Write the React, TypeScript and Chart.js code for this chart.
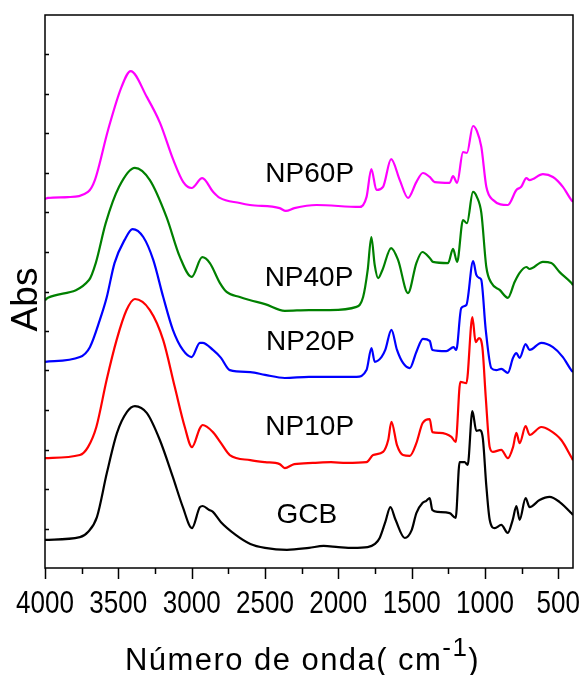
import React, { useEffect, useRef } from "react";
import { Chart, registerables } from "chart.js";

Chart.register(...registerables);

// ---- Data (wavenumber in cm-1, absorbance in stacked arbitrary units) ----
const gcbWn = [4000, 3762, 3707, 3646, 3578, 3509, 3441, 3387, 3305, 3217, 3128, 3060, 2998, 2944, 2925, 2880, 2855, 2800, 2700, 2600, 2500, 2350, 2200, 2100, 2000, 1900, 1800, 1750, 1718, 1680, 1645, 1610, 1547, 1500, 1468, 1425, 1400, 1377, 1359, 1322, 1241, 1200, 1173, 1139, 1118, 1086, 1059, 1036, 1015, 991, 968, 934, 889, 845, 811, 786, 764, 723, 696, 628, 560, 491, 412, 400];
const gcbAbs = [0.071, 0.078, 0.091, 0.129, 0.241, 0.342, 0.395, 0.410, 0.392, 0.324, 0.230, 0.154, 0.101, 0.154, 0.157, 0.147, 0.142, 0.116, 0.084, 0.061, 0.051, 0.046, 0.051, 0.056, 0.053, 0.051, 0.053, 0.061, 0.076, 0.116, 0.154, 0.122, 0.076, 0.096, 0.139, 0.165, 0.170, 0.177, 0.147, 0.142, 0.139, 0.127, 0.268, 0.268, 0.261, 0.397, 0.347, 0.349, 0.329, 0.208, 0.122, 0.101, 0.109, 0.089, 0.122, 0.157, 0.122, 0.177, 0.154, 0.172, 0.180, 0.167, 0.139, 0.134];

const np10Wn = [4000, 3762, 3707, 3650, 3580, 3512, 3444, 3387, 3285, 3194, 3115, 3047, 2998, 2944, 2925, 2855, 2800, 2740, 2600, 2500, 2400, 2365, 2300, 2174, 2050, 1945, 1808, 1763, 1695, 1660, 1638, 1600, 1559, 1513, 1468, 1425, 1377, 1359, 1309, 1229, 1200, 1168, 1127, 1086, 1064, 1041, 1018, 995, 968, 946, 889, 844, 809, 786, 764, 723, 696, 616, 560, 480, 412, 400];
const np10Abs = [0.278, 0.286, 0.306, 0.357, 0.476, 0.577, 0.653, 0.681, 0.653, 0.577, 0.458, 0.357, 0.306, 0.354, 0.362, 0.344, 0.316, 0.286, 0.273, 0.268, 0.263, 0.253, 0.263, 0.266, 0.268, 0.266, 0.268, 0.286, 0.294, 0.324, 0.370, 0.311, 0.286, 0.284, 0.316, 0.367, 0.377, 0.344, 0.342, 0.332, 0.319, 0.471, 0.468, 0.635, 0.572, 0.582, 0.559, 0.433, 0.306, 0.294, 0.299, 0.278, 0.306, 0.342, 0.316, 0.359, 0.337, 0.357, 0.349, 0.324, 0.281, 0.273];

const np20Wn = [4000, 3762, 3694, 3626, 3580, 3526, 3458, 3403, 3330, 3262, 3194, 3128, 3060, 3000, 2944, 2925, 2855, 2800, 2740, 2600, 2500, 2365, 2200, 2058, 1876, 1808, 1774, 1752, 1706, 1680, 1638, 1600, 1559, 1513, 1468, 1423, 1377, 1359, 1264, 1214, 1196, 1162, 1127, 1081, 1059, 1036, 1025, 995, 957, 923, 889, 844, 809, 786, 764, 723, 696, 616, 537, 469, 412, 400];
const np20Abs = [0.522, 0.534, 0.559, 0.628, 0.684, 0.772, 0.830, 0.858, 0.838, 0.780, 0.686, 0.603, 0.552, 0.534, 0.570, 0.570, 0.552, 0.532, 0.501, 0.496, 0.489, 0.481, 0.484, 0.484, 0.484, 0.501, 0.557, 0.522, 0.534, 0.552, 0.603, 0.552, 0.519, 0.506, 0.547, 0.580, 0.575, 0.552, 0.549, 0.559, 0.552, 0.658, 0.666, 0.777, 0.742, 0.734, 0.729, 0.603, 0.506, 0.501, 0.504, 0.494, 0.532, 0.544, 0.532, 0.567, 0.552, 0.570, 0.559, 0.534, 0.501, 0.496];

const np40Wn = [4000, 3980, 3700, 3654, 3586, 3495, 3387, 3285, 3172, 3080, 3000, 2928, 2876, 2808, 2762, 2672, 2600, 2500, 2365, 2200, 2058, 1876, 1831, 1800, 1775, 1752, 1729, 1700, 1640, 1593, 1525, 1468, 1427, 1377, 1355, 1252, 1218, 1190, 1150, 1123, 1082, 1055, 1025, 991, 957, 900, 844, 798, 764, 718, 696, 605, 548, 491, 412, 400];
const np40Abs = [0.678, 0.684, 0.729, 0.772, 0.873, 0.965, 1.013, 0.982, 0.889, 0.787, 0.737, 0.787, 0.772, 0.722, 0.699, 0.686, 0.678, 0.668, 0.651, 0.653, 0.653, 0.661, 0.686, 0.754, 0.838, 0.767, 0.734, 0.754, 0.810, 0.780, 0.696, 0.772, 0.800, 0.785, 0.775, 0.772, 0.808, 0.775, 0.881, 0.873, 0.952, 0.939, 0.899, 0.762, 0.722, 0.704, 0.684, 0.724, 0.747, 0.762, 0.757, 0.775, 0.772, 0.749, 0.722, 0.716];

const np60Wn = [4000, 3980, 3843, 3707, 3660, 3570, 3478, 3416, 3305, 3216, 3125, 3057, 3000, 2928, 2853, 2808, 2672, 2603, 2400, 2358, 2300, 2149, 1854, 1808, 1775, 1740, 1695, 1640, 1581, 1525, 1468, 1423, 1377, 1343, 1241, 1218, 1190, 1150, 1123, 1082, 1055, 1025, 991, 946, 844, 786, 753, 718, 696, 605, 537, 469, 412, 400];
const np60Abs = [0.934, 0.937, 0.939, 0.952, 0.982, 1.109, 1.218, 1.258, 1.192, 1.127, 1.033, 0.977, 0.962, 0.987, 0.952, 0.937, 0.924, 0.919, 0.911, 0.904, 0.911, 0.919, 0.914, 0.939, 1.010, 0.957, 0.965, 1.035, 0.982, 0.937, 0.977, 1.000, 0.990, 0.977, 0.975, 0.992, 0.975, 1.053, 1.051, 1.119, 1.106, 1.066, 0.965, 0.932, 0.919, 0.957, 0.965, 0.987, 0.982, 0.997, 0.990, 0.965, 0.932, 0.927];

const seriesNames = ["GCB", "NP10P", "NP20P", "NP40P", "NP60P"];
const seriesColors = ["#000000", "#ff0000", "#0000ff", "#008000", "#ff00ff"];
// label anchors: wavenumber (centre) and absorbance (baseline)
const labelWn = [2215, 2195, 2190, 2200, 2195];
const labelAbs = [0.114, 0.337, 0.552, 0.715, 0.978];

const xMajorTicks = [4000, 3500, 3000, 2500, 2000, 1500, 1000, 500];
const xMinorTicks = [3750, 3250, 2750, 2250, 1750, 1250, 750];
const yTicks = [0.1, 0.2, 0.3, 0.4, 0.5, 0.6, 0.7, 0.8, 0.9, 1.0, 1.1, 1.2, 1.3];
const xTitleMain = "Número de onda( cm";
const xTitleSup = "-1";
const xTitleEnd = ")";
const yTitle = "Abs";

const FONT = '"Liberation Sans", Arial, sans-serif';

const axesPlugin = {
  id: "ftirAxes",
  afterDraw(chart: any) {
    const { ctx, chartArea: a, scales } = chart;
    const xs = scales.x;
    const ys = scales.y;
    ctx.save();
    ctx.strokeStyle = "#000";
    ctx.fillStyle = "#000";
    ctx.lineWidth = 1.5;
    ctx.strokeRect(a.left, a.top, a.right - a.left, a.bottom - a.top);

    // x ticks (outward)
    ctx.beginPath();
    xMajorTicks.forEach((v) => {
      const p = Math.round(xs.getPixelForValue(v)) + 0.5;
      ctx.moveTo(p, a.bottom);
      ctx.lineTo(p, a.bottom + 11);
    });
    xMinorTicks.forEach((v) => {
      const p = Math.round(xs.getPixelForValue(v)) + 0.5;
      ctx.moveTo(p, a.bottom);
      ctx.lineTo(p, a.bottom + 6);
    });
    // y ticks (inward)
    yTicks.forEach((v) => {
      const p = Math.round(ys.getPixelForValue(v)) + 0.5;
      ctx.moveTo(a.left, p);
      ctx.lineTo(a.left + 4, p);
    });
    ctx.stroke();

    // x tick labels (condensed)
    ctx.font = "31px " + FONT;
    ctx.textAlign = "center";
    ctx.textBaseline = "alphabetic";
    xMajorTicks.forEach((v) => {
      const p = xs.getPixelForValue(v);
      ctx.save();
      ctx.translate(p, a.bottom + 45);
      ctx.scale(0.84, 1);
      ctx.fillText(String(v), 0, 0);
      ctx.restore();
    });

    // y title
    ctx.save();
    ctx.font = "37px " + FONT;
    ctx.translate(a.left - 8, (a.top + a.bottom) / 2 + 8);
    ctx.rotate(-Math.PI / 2);
    ctx.textAlign = "center";
    ctx.fillText(yTitle, 0, 0);
    ctx.restore();

    // x title with superscript
    ctx.save();
    ctx.textAlign = "left";
    const mainFont = "31px " + FONT;
    const supFont = "26px " + FONT;
    ctx.font = mainFont;
    const w1 = ctx.measureText(xTitleMain).width;
    const w3 = ctx.measureText(xTitleEnd).width;
    ctx.font = supFont;
    const w2 = ctx.measureText(xTitleSup).width;
    const nChars = xTitleMain.length + xTitleSup.length + xTitleEnd.length;
    const target = 355;
    const ls = Math.max(0, (target - (w1 + w2 + w3)) / nChars);
    const startX = a.left + 80;
    const base = a.bottom + 102;
    (ctx as any).letterSpacing = ls.toFixed(2) + "px";
    ctx.font = mainFont;
    let cx = startX;
    ctx.fillText(xTitleMain, cx, base);
    cx += ctx.measureText(xTitleMain).width;
    ctx.font = supFont;
    ctx.fillText(xTitleSup, cx, base - 14);
    cx += ctx.measureText(xTitleSup).width;
    ctx.font = mainFont;
    ctx.fillText(xTitleEnd, cx, base);
    ctx.restore();

    // series labels
    ctx.font = "28px " + FONT;
    ctx.textAlign = "center";
    seriesNames.forEach((name, i) => {
      const px = xs.getPixelForValue(labelWn[i]);
      const py = ys.getPixelForValue(labelAbs[i]);
      ctx.fillText(name, px, py);
    });
    ctx.restore();
  },
};

function zip(wn: number[], ab: number[]) {
  return wn.map((w, i) => ({ x: w, y: ab[i] }));
}

export default function App() {
  const canvasRef = useRef<HTMLCanvasElement | null>(null);

  useEffect(() => {
    if (!canvasRef.current) return;
    const all = [
      [gcbWn, gcbAbs],
      [np10Wn, np10Abs],
      [np20Wn, np20Abs],
      [np40Wn, np40Abs],
      [np60Wn, np60Abs],
    ];
    const chart = new Chart(canvasRef.current, {
      type: "line",
      data: {
        datasets: all.map(([wn, ab], i) => ({
          label: seriesNames[i],
          data: zip(wn as number[], ab as number[]),
          borderColor: seriesColors[i],
          backgroundColor: seriesColors[i],
          borderWidth: 2.2,
          pointRadius: 0,
          fill: false,
          cubicInterpolationMode: "monotone" as const,
        })),
      },
      options: {
        animation: false,
        responsive: true,
        maintainAspectRatio: false,
        devicePixelRatio: 1,
        layout: { padding: { left: 45, right: 12, top: 15, bottom: 107 } },
        plugins: { legend: { display: false }, tooltip: { enabled: false } },
        scales: {
          x: { type: "linear", min: 400, max: 4000, reverse: true, display: false },
          y: { type: "linear", min: 0, max: 1.4, display: false },
        },
      },
      plugins: [axesPlugin],
    });
    return () => chart.destroy();
  }, []);

  return (
    <div style={{ position: "fixed", left: 0, top: 0, width: 585, height: 675, background: "#fff" }}>
      <canvas ref={canvasRef} />
    </div>
  );
}
